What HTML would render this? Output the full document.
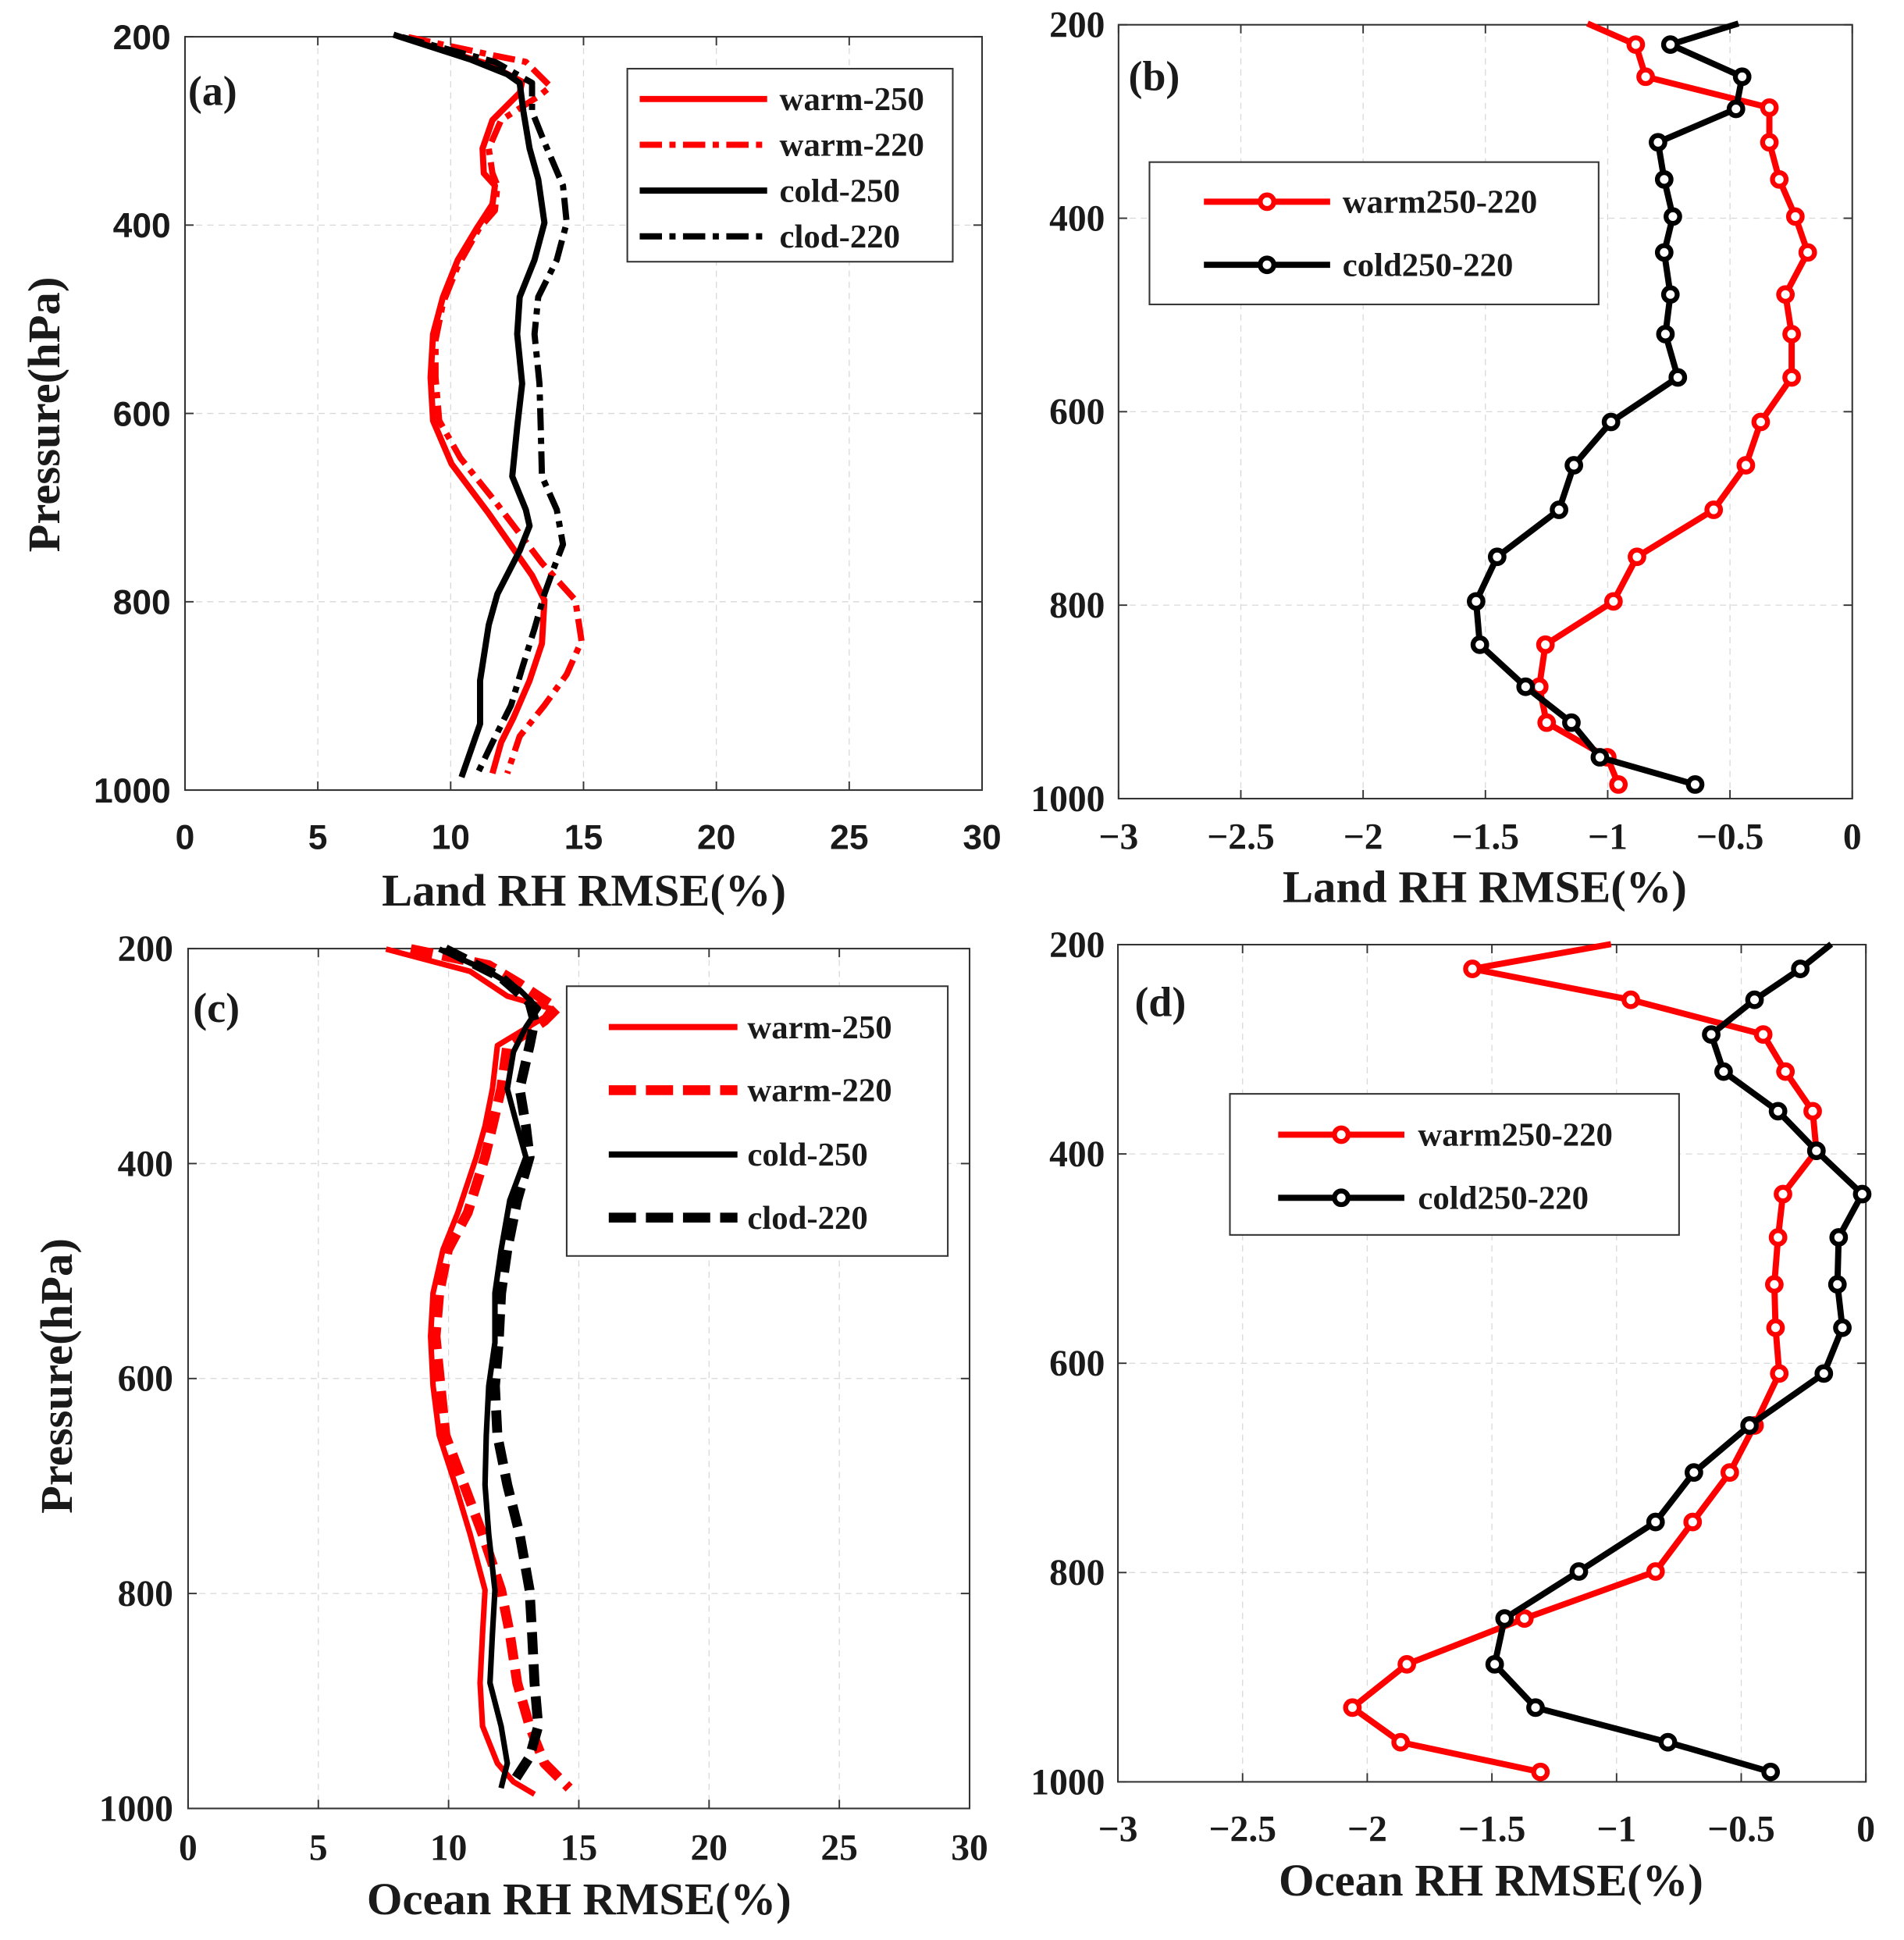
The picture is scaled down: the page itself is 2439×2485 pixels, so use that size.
<!DOCTYPE html>
<html><head><meta charset="utf-8"><style>
html,body{margin:0;padding:0;background:#fff;}
svg{display:block;}
text{font-family:"Liberation Serif",serif;font-weight:bold;fill:#1a1a1a;}
</style></head><body>
<svg id="s" width="2439" height="2485" viewBox="0 0 1538.8 1567.8" xmlns="http://www.w3.org/2000/svg"></svg>
<script>
const s=document.getElementById('s');let h='';
function panel(x0,x1,y0,y1,xt,yt,sans,ylx,xly){
  const fs=sans?28:30, st=sans?'style="font-family:\'Liberation Sans\',sans-serif"':'';
  xt.forEach((t,i)=>{const x=x0+(x1-x0)*i/(xt.length-1);
    if(i>0&&i<xt.length-1)h+=`<line x1="${x}" y1="${y0}" x2="${x}" y2="${y1}" stroke="#d8d8d8" stroke-width="0.8" stroke-dasharray="5 4"/>`;
    h+=`<line x1="${x}" y1="${y0}" x2="${x}" y2="${y0+7}" stroke="#333" stroke-width="1.2"/><line x1="${x}" y1="${y1}" x2="${x}" y2="${y1-7}" stroke="#333" stroke-width="1.2"/>`;
    h+=`<text x="${x}" y="${xly}" font-size="${fs}" text-anchor="middle" ${st}>${t}</text>`;});
  yt.forEach((t,i)=>{const y=y0+(y1-y0)*i/(yt.length-1);
    if(i>0&&i<yt.length-1)h+=`<line x1="${x0}" y1="${y}" x2="${x1}" y2="${y}" stroke="#d8d8d8" stroke-width="0.8" stroke-dasharray="5 4"/>`;
    h+=`<line x1="${x0}" y1="${y}" x2="${x0+7}" y2="${y}" stroke="#333" stroke-width="1.2"/><line x1="${x1}" y1="${y}" x2="${x1-7}" y2="${y}" stroke="#333" stroke-width="1.2"/>`;
    h+=`<text x="${ylx}" y="${y+10}" font-size="${fs}" text-anchor="end" ${st}>${t}</text>`;});
  h+=`<rect x="${x0}" y="${y0}" width="${x1-x0}" height="${y1-y0}" fill="none" stroke="#333" stroke-width="1.3"/>`;
}
function line(pts,col,w,dash,mk){
  h+=`<polyline points="${pts.map(p=>p.join(',')).join(' ')}" fill="none" stroke="${col}" stroke-width="${w}" stroke-linejoin="round" ${dash?`stroke-dasharray="${dash}"`:''}/>`;
  if(mk)pts.slice(1).forEach(p=>{h+=`<circle cx="${p[0]}" cy="${p[1]}" r="5.5" fill="#fff" stroke="${col}" stroke-width="4"/>`;});
}
const pa=[0,5,10,15,20,25,30],py=[200,400,600,800,1000],pb=['−3','−2.5','−2','−1.5','−1','−0.5','0'];
panel(149.5,793.7,29.7,638.5,pa,py,true,138,686);
panel(904,1497,20,645.4,pb,py,false,893,686);
panel(152,783.6,766.6,1461.5,pa,py,false,140,1503);
panel(903.5,1508,763.4,1440,pb,py,false,893,1488);
line([[325,30],[395,52],[422,66],[420,75],[398,97],[390,120],[391,140],[400,150],[398,165],[385,185],[370,210],[358,240],[350,270],[348,305],[350,340],[365,375],[395,415],[430,465],[440,485],[438,520],[428,550],[415,580],[405,600],[398,625]],'#f00',5);
line([[330,30],[400,45],[425,50],[445,70],[435,78],[405,97],[395,120],[398,140],[402,150],[400,170],[387,185],[370,215],[358,245],[352,275],[352,305],[355,340],[372,370],[400,405],[438,455],[465,485],[470,518],[458,545],[440,570],[420,595],[410,625]],'#f00',5,'18 6 5 6');
line([[318,28],[380,48],[410,60],[420,67],[423,90],[428,120],[435,145],[440,180],[432,210],[420,240],[418,270],[422,310],[418,345],[414,385],[425,412],[428,425],[420,445],[402,480],[395,505],[388,550],[388,585],[380,608],[373,628]],'#000',5);
line([[325,30],[400,50],[430,67],[430,90],[440,115],[455,150],[458,180],[450,210],[435,240],[432,270],[436,310],[437,345],[438,385],[450,412],[455,440],[448,458],[440,480],[432,508],[422,540],[413,570],[398,600],[386,625]],'#000',5,'18 6 5 6');
line([[1283,19],[1322,36],[1330,62],[1430,87],[1430,115],[1438,145],[1451,175],[1461,204],[1443,238],[1448,270],[1448,305],[1423,341],[1411,376],[1385,412],[1323,450],[1304,486],[1249,521],[1244,555],[1250,584],[1299,612],[1308,634]],'#f00',5,null,true);
line([[1405,19],[1350,36],[1408,62],[1403,88],[1340,115],[1345,145],[1352,175],[1345,204],[1350,238],[1346,270],[1356,305],[1302,341],[1272,376],[1260,412],[1210,450],[1193,486],[1196,521],[1233,555],[1270,584],[1293,612],[1370,634]],'#000',5,null,true);
line([[312,767],[380,785],[410,805],[445,815],[440,822],[402,845],[398,880],[392,910],[385,935],[370,980],[358,1010],[350,1045],[348,1080],[350,1120],[355,1160],[368,1200],[380,1240],[392,1285],[390,1320],[388,1360],[390,1395],[402,1425],[415,1440],[432,1450]],'#f00',4.5);
line([[332,767],[395,780],[420,795],[450,815],[440,825],[410,845],[405,880],[398,910],[392,935],[378,980],[362,1010],[355,1045],[352,1080],[356,1120],[360,1160],[375,1200],[390,1240],[405,1285],[412,1320],[418,1360],[428,1395],[440,1425],[460,1445]],'#f00',8,'18 8');
line([[355,767],[395,785],[420,800],[435,815],[425,830],[415,850],[410,880],[418,910],[425,935],[412,970],[405,1010],[400,1045],[400,1085],[395,1120],[393,1160],[392,1200],[395,1240],[400,1285],[398,1320],[396,1360],[405,1395],[410,1425],[405,1445]],'#000',4.5);
line([[360,767],[405,790],[428,810],[432,825],[428,845],[420,880],[425,910],[428,935],[418,970],[410,1010],[405,1045],[403,1085],[400,1120],[402,1160],[410,1200],[420,1240],[428,1285],[430,1320],[432,1360],[435,1395],[428,1420],[415,1440]],'#000',8,'18 8');
line([[1302,763],[1190,783],[1318,808],[1425,836],[1443,866],[1465,898],[1468,930],[1441,965],[1437,1000],[1434,1038],[1435,1073],[1438,1110],[1418,1152],[1398,1190],[1368,1230],[1338,1270],[1232,1308],[1137,1345],[1093,1380],[1132,1408],[1245,1432]],'#f00',5,null,true);
line([[1480,763],[1455,783],[1418,808],[1383,836],[1393,866],[1437,898],[1468,930],[1505,965],[1486,1000],[1485,1038],[1489,1073],[1474,1110],[1414,1152],[1369,1190],[1338,1230],[1276,1270],[1216,1308],[1208,1345],[1241,1380],[1348,1408],[1431,1432]],'#000',5,null,true);
function leg(x,y,w,ht,items,lx0,lx1,tx,mk){
  h+=`<rect x="${x}" y="${y}" width="${w}" height="${ht}" fill="#fff" stroke="#333" stroke-width="1.3"/>`;
  items.forEach(it=>{h+=`<line x1="${lx0}" y1="${it[1]}" x2="${lx1}" y2="${it[1]}" stroke="${it[2]}" stroke-width="${it[4]||5}" ${it[3]?`stroke-dasharray="${it[3]}"`:''}/>`;
    if(mk)h+=`<circle cx="${(lx0+lx1)/2}" cy="${it[1]}" r="5.5" fill="#fff" stroke="${it[2]}" stroke-width="4"/>`;
    h+=`<text x="${tx}" y="${it[1]+9}" font-size="27">${it[0]}</text>`;});
}
leg(507,55.5,263,156,[['warm-250',80,'#f00'],['warm-220',117,'#f00','18 6 5 6'],['cold-250',154,'#000'],['clod-220',191,'#000','18 6 5 6']],517,620,630);
leg(929,131,363,115,[['warm250-220',163,'#f00'],['cold250-220',214,'#000']],973,1075,1085,true);
leg(458,797,308,218,[['warm-250',830,'#f00'],['warm-220',881,'#f00','22 8',8],['cold-250',933,'#000'],['clod-220',984,'#000','22 8',8]],492,596,604);
leg(994,884,363,114,[['warm250-220',917,'#f00'],['cold250-220',968,'#000']],1033,1135,1146,true);
h+=`<text x="152" y="85" font-size="34">(a)</text><text x="912" y="73" font-size="34">(b)</text><text x="156" y="826" font-size="34">(c)</text><text x="917" y="821" font-size="34">(d)</text>`;
h+=`<text x="472" y="732" font-size="37" text-anchor="middle">Land RH RMSE(%)</text>`;
h+=`<text x="1200" y="729" font-size="37" text-anchor="middle">Land RH RMSE(%)</text>`;
h+=`<text x="468" y="1547" font-size="37" text-anchor="middle">Ocean RH RMSE(%)</text>`;
h+=`<text x="1205" y="1532" font-size="37" text-anchor="middle">Ocean RH RMSE(%)</text>`;
h+=`<text transform="translate(48,335) rotate(-90)" font-size="37" text-anchor="middle">Pressure(hPa)</text>`;
h+=`<text transform="translate(58,1112) rotate(-90)" font-size="37" text-anchor="middle">Pressure(hPa)</text>`;
s.innerHTML=h;
</script>
</body></html>
